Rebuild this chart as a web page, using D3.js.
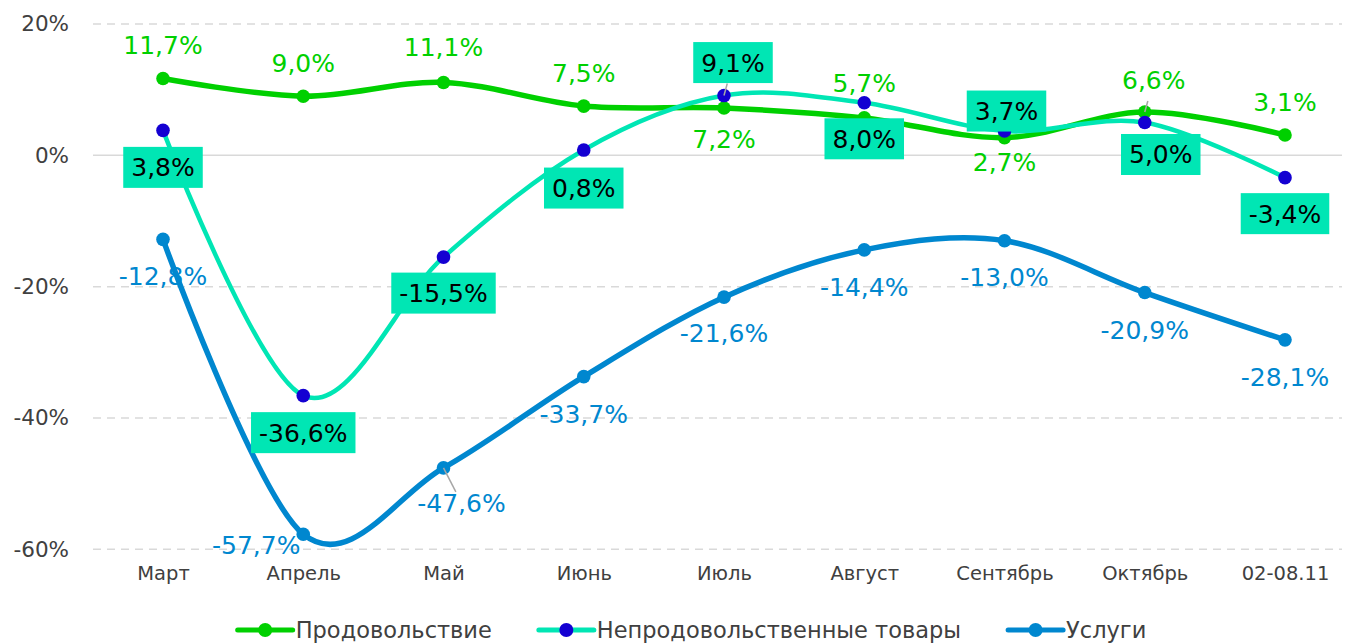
<!DOCTYPE html>
<html>
<head>
<meta charset="utf-8">
<script src="https://cdn.jsdelivr.net/npm/d3@7"></script>
<style>
  body { margin: 0; background: #ffffff; }
  svg { display: block; }
  text { font-family: "DejaVu Sans", sans-serif; }
</style>
</head>
<body>
<div id="chart"></div>
<script>
// categories and series values
const months = ["Март", "Апрель", "Май", "Июнь", "Июль", "Август", "Сентябрь", "Октябрь", "02-08.11"];
const food = [11.7, 9.0, 11.1, 7.5, 7.2, 5.7, 2.7, 6.6, 3.1];
const nonFood = [3.8, -36.6, -15.5, 0.8, 9.1, 8.0, 3.7, 5.0, -3.4];
const services = [-12.8, -57.7, -47.6, -33.7, -21.6, -14.4, -13.0, -20.9, -28.1];
const yTicks = [20, 0, -20, -40, -60];
const seriesNames = ["Продовольствие", "Непродовольственные товары", "Услуги"];

// label placement (offset of label centre from its point)
const foodLabelPos = [[0, -33], [0, -33], [0, -35], [0, -33], [0, 31], [0, -35], [0, 24], [9, -32, true], [0, -33]];
const nonFoodLabelPos = [[0, 37], [0, 37], [0, 36], [0, 38], [9, -33, true], [0, 36], [2, -20], [16, 32], [0, 36]];
const servicesLabelPos = [[0, 37], [-47, 11], [18, 35, true], [0, 37], [0, 36], [0, 37], [0, 36], [0, 37], [0, 37]];

const width = 1345, height = 643;
const svg = d3.select("#chart").append("svg")
    .attr("width", width)
    .attr("height", height);

const x = d3.scalePoint()
    .domain(months)
    .range([163, 1285]);

const y = d3.scaleLinear()
    .domain([-60, 20])
    .range([549.3, 24]);

// gridlines
svg.append("g")
    .selectAll("line")
    .data(yTicks)
    .enter()
    .append("line")
    .attr("x1", 93)
    .attr("x2", 1342)
    .attr("y1", d => y(d))
    .attr("y2", d => y(d))
    .attr("stroke", "#d9d9d9")
    .attr("stroke-width", 1.5)
    .attr("stroke-dasharray", d => d === 0 ? null : "8,6");

// y axis labels
const yAxis = d3.axisLeft(y)
    .tickValues(yTicks)
    .tickSize(0)
    .tickPadding(0)
    .tickFormat(d => d + "%");

svg.append("g")
    .attr("transform", "translate(69,0)")
    .call(yAxis)
    .call(g => g.select(".domain").remove())
    .selectAll("text")
    .attr("font-family", "DejaVu Sans")
    .attr("font-size", 21.5)
    .attr("fill", "#404040");

// x axis labels
const xAxis = d3.axisBottom(x).tickSize(0).tickPadding(0);
svg.append("g")
    .attr("transform", "translate(0,566)")
    .call(xAxis)
    .call(g => g.select(".domain").remove())
    .selectAll("text")
    .attr("font-family", "DejaVu Sans")
    .attr("font-size", 19.5)
    .attr("fill", "#404040");

const fmt = v => v.toFixed(1).replace(".", ",") + "%";

const line = d3.line()
    .x((d, i) => x(months[i]))
    .y(d => y(d))
    .curve(d3.curveCardinal.tension(0));

const series = [
    { name: seriesNames[0], values: food, line: "#00d000", marker: "#00d000", width: 5.5, pos: foodLabelPos },
    { name: seriesNames[1], values: nonFood, line: "#00e6b4", marker: "#1400d2", width: 4.5, pos: nonFoodLabelPos, box: true },
    { name: seriesNames[2], values: services, line: "#0087cf", marker: "#0087cf", width: 5.5, pos: servicesLabelPos }
];

const marks = svg.append("g");
series.forEach(s => {
    marks.append("path")
        .datum(s.values)
        .attr("fill", "none")
        .attr("stroke", s.line)
        .attr("stroke-width", s.width)
        .attr("stroke-linecap", "round")
        .attr("d", line);

    marks.selectAll(null)
        .data(s.values)
        .enter()
        .append("circle")
        .attr("cx", (d, i) => x(months[i]))
        .attr("cy", d => y(d))
        .attr("r", 6.8)
        .attr("fill", s.marker);
});

// data labels
const labels = svg.append("g");
const fontSize = 25;
series.forEach(s => {
    s.values.forEach((v, i) => {
        const px = x(months[i]), py = y(v);
        const [dx, dy, leader] = s.pos[i];
        const cx = px + dx, cy = py + dy;

        if (leader) {
            const ey = dy < 0 ? cy + 21 : cy - 11;
            labels.append("line")
                .attr("x1", px)
                .attr("y1", py)
                .attr("x2", px + (dx) * ((ey - py) / dy))
                .attr("y2", ey)
                .attr("stroke", "#a6a6a6")
                .attr("stroke-width", 1.5);
        }

        const g = labels.append("g");
        const rect = s.box ? g.append("rect") : null;
        const t = g.append("text")
            .attr("x", cx)
            .attr("y", cy + fontSize * 0.36)
            .attr("text-anchor", "middle")
            .attr("font-size", fontSize)
            .attr("fill", s.box ? "#000000" : s.line)
            .text(fmt(v));

        if (rect) {
            const w = t.node().getComputedTextLength() + 16;
            rect.attr("x", cx - w / 2)
                .attr("y", cy - 20.5)
                .attr("width", w)
                .attr("height", 41)
                .attr("fill", "#00e6b4");
        }
    });
});

// legend
const legend = svg.append("g").attr("transform", "translate(0,630)");
let lx = 0;
series.forEach((s, i) => {
    const item = legend.append("g").attr("transform", "translate(" + lx + ",0)");
    item.append("line")
        .attr("x1", 0).attr("x2", 55)
        .attr("y1", 0).attr("y2", 0)
        .attr("stroke", s.line)
        .attr("stroke-width", 5)
        .attr("stroke-linecap", "round");
    item.append("circle")
        .attr("cx", 27.5).attr("cy", 0).attr("r", 7)
        .attr("fill", s.marker);
    const t = item.append("text")
        .attr("x", 58)
        .attr("y", 8)
        .attr("font-size", 22.5)
        .attr("fill", "#404040")
        .text(s.name);
    lx += 58 + t.node().getComputedTextLength() + 47;
});
const legendWidth = lx - 47;
legend.attr("transform", "translate(" + (692 - legendWidth / 2) + ",630)");
</script>
</body>
</html>
